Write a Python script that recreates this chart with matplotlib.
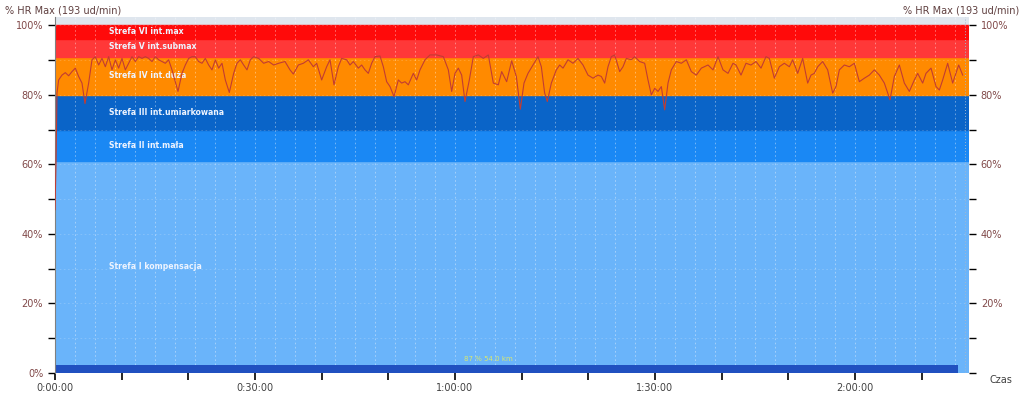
import numpy as np
from matplotlib import pyplot as plt
from matplotlib.ticker import MultipleLocator, FuncFormatter

# strefy tetna (% HR max)
strefy_nazwy = ["Strefa I kompensacja", "Strefa II int.mała", "Strefa III int.umiarkowana",
                "Strefa IV int.duża", "Strefa V int.submax", "Strefa VI int.max"]
strefy_od = [0, 61, 70, 80, 91, 96]
strefy_do = [61, 70, 80, 91, 96, 100]
strefy_kolory = ["#6ab4fa", "#1a88f4", "#0a64c8", "#ff8a00", "#ff3838", "#ff0a0a"]
strefy_y_tekst = [30.5, 65.5, 75, 85.6, 94, 98.3]

# przebieg HR (czas w minutach, % HR max)
czas = [0.0, 0.15, 0.3, 0.55, 1.05, 1.55, 2.05, 2.55, 3.05, 3.55, 4.05, 4.5, 5.05, 5.55, 6.05,
        6.55, 7.05, 7.55, 8.05, 8.55, 9.05, 9.55, 10.05, 10.55, 11.05, 11.55, 12.05, 12.55,
        13.05, 13.55, 14.05, 14.55, 15.05, 15.55, 16.55, 17.05, 17.55, 18.05, 18.45, 19.05,
        19.55, 20.05, 20.55, 21.05, 21.55, 22.05, 22.55, 23.05, 23.55, 24.05, 24.55, 25.05,
        25.55, 26.15, 26.8, 27.3, 27.8, 28.3, 28.8, 29.3, 29.8, 30.55, 31.3, 32.05, 32.8,
        33.55, 34.5, 35.25, 35.75, 36.5, 37.25, 38.0, 38.75, 39.25, 40.0, 40.75, 41.25,
        41.85, 42.5, 43.0, 43.75, 44.25, 44.75, 45.5, 46.0, 46.5, 47.0, 47.5, 48.0, 48.75,
        49.25, 49.75, 50.25, 50.85, 51.5, 52.0, 52.5, 53.0, 53.75, 54.25, 54.75, 55.5,
        56.25, 57.25, 58.25, 59.0, 59.5, 60.0, 60.5, 61.0, 61.5, 62.15, 62.75, 63.5, 64.25,
        65.0, 65.75, 66.5, 67.0, 67.75, 68.5, 69.2, 69.8, 70.35, 70.95, 71.7, 72.45, 72.95,
        73.45, 73.85, 74.45, 75.2, 75.7, 76.2, 76.95, 77.7, 78.45, 79.2, 79.95, 80.7, 81.45,
        81.95, 82.45, 82.95, 83.45, 83.95, 84.7, 85.2, 85.7, 86.45, 86.95, 87.7, 88.45,
        88.95, 89.45, 89.95, 90.45, 90.95, 91.45, 91.95, 92.45, 93.2, 93.95, 94.7, 95.45,
        96.2, 96.95, 97.95, 98.7, 99.45, 100.2, 100.95, 101.7, 102.15, 102.9, 103.65, 104.4,
        105.15, 105.9, 106.65, 107.15, 107.9, 108.65, 109.4, 110.15, 110.65, 111.4, 112.15,
        112.9, 113.4, 113.9, 114.4, 115.15, 115.9, 116.65, 117.15, 117.65, 118.4, 119.15,
        119.9, 120.65, 121.4, 122.15, 122.9, 123.65, 124.4, 125.25, 125.9, 126.65, 127.4,
        128.15, 128.9, 129.4, 130.15, 130.65, 131.4, 132.15, 132.65, 133.15, 133.9, 134.65,
        135.55, 136.15]
hr = [47, 60, 80.5, 84.3, 85.7, 86.4, 85.5, 86.7, 87.7, 85.3, 83.4, 77.5, 83.4, 90.1, 91.0,
      88.6, 90.5, 88.1, 91.0, 87.2, 90.1, 87.7, 90.5, 87.2, 89.1, 91.0, 89.6, 91.0,
      90.5, 91.0, 90.5, 89.6, 91.0, 90.1, 89.1, 90.1, 87.2, 83.8, 81.0, 86.2,
      88.6, 90.5, 91.0, 91.0, 89.6, 89.1, 90.5, 88.6, 87.2, 90.1, 87.7, 89.1,
      84.3, 80.7, 86.2, 89.1, 90.1, 88.6, 87.2, 90.1, 91.0, 90.5, 89.1, 89.6, 88.6,
      89.1, 89.6, 87.2, 86.0, 88.6, 89.1, 90.1, 88.1, 89.1, 84.3, 88.1, 90.1,
      82.9, 88.1, 90.5, 90.1, 88.6, 89.6, 87.7, 88.6, 87.2, 86.2, 89.1, 91.0, 91.2,
      88.1, 83.8, 82.4, 79.5, 84.3, 83.4, 83.8, 82.9, 86.2, 84.3, 87.2, 90.1,
      91.5, 91.5, 91.0, 87.2, 81.0, 86.2, 87.7, 85.7, 78.1, 84.3, 91.0, 91.5, 90.5,
      91.5, 83.4, 82.9, 86.7, 83.8, 89.8, 85.3, 75.9, 83.4, 86.2, 88.6, 91.0, 88.1,
      80.5, 78.1, 83.4, 87.2, 88.6, 87.7, 90.1, 89.1, 90.5, 88.6, 85.7, 84.8, 85.7,
      85.3, 83.4, 88.1, 91.0, 91.5, 86.7, 88.1, 90.5, 90.1, 91.0, 89.6, 89.1,
      84.3, 80.0, 81.9, 81.0, 82.4, 75.7, 83.4, 87.2, 89.6, 89.1, 90.1, 86.7,
      85.7, 87.7, 88.6, 87.2, 91.0, 87.2, 86.2, 89.1, 88.6, 85.7, 89.1, 88.6,
      89.6, 87.7, 91.0, 90.5, 84.8, 88.1, 89.1, 88.1, 90.1, 86.2, 90.5,
      83.4, 85.7, 86.2, 88.1, 89.6, 87.2, 80.5, 82.4, 87.2, 88.6, 88.1,
      89.1, 83.8, 84.8, 85.7, 87.2, 85.7, 83.4, 78.6, 85.3, 88.6, 83.4,
      81.0, 84.3, 86.2, 83.4, 86.2, 87.7, 82.4, 81.4, 84.3, 89.1, 83.4,
      88.6, 85.7]

czas_koniec = 135.5     # koniec paska dystansu
czas_max = 137.1
opis_paska = "87 % 54.0 km"

fig = plt.figure(figsize=(10.24, 3.96), dpi=100)
ax = fig.add_axes([0.0537, 0.058, 0.8926, 0.899])

# tlo nad 100%
ax.axhspan(100, 102.4, color="#dfe6ee", zorder=0)
for a, b, k in zip(strefy_od, strefy_do, strefy_kolory):
    ax.axhspan(a, b, color=k, zorder=0)

# siatka
for x in np.arange(3, czas_max, 3):
    ax.axvline(x, color="white", lw=0.6, ls=(0, (2, 3)), alpha=0.45, zorder=1)
for y in range(10, 101, 10):
    ax.axhline(y, color="white", lw=0.6, ls=(0, (2, 3)), alpha=0.2, zorder=1)
ax.axvline(136.5, color="#a0b8d0", lw=0.7, ls=(0, (1, 2)), zorder=1)

# pasek dystansu
ax.fill_between([0, czas_koniec], 0, 2.2, color="#2050c0", lw=0, zorder=2)
ax.text(65, 3.2, opis_paska, color="#d8e870", fontsize=5, ha="center", va="bottom", zorder=3)

for nazwa, y in zip(strefy_nazwy, strefy_y_tekst):
    ax.text(8.1, y, nazwa, color="#eef4ff", fontsize=5.6, fontweight="bold",
            va="center", ha="left", zorder=3)

ax.plot(czas, hr, color="#c23c32", lw=0.8, zorder=4)

ax.set_xlim(0, czas_max)
ax.set_ylim(0, 102.4)

def fmt_czas(x, pos):
    m = int(round(x))
    return "%d:%02d:00" % (m // 60, m % 60)

ax.xaxis.set_major_locator(MultipleLocator(30))
ax.xaxis.set_minor_locator(MultipleLocator(10))
ax.xaxis.set_major_formatter(FuncFormatter(fmt_czas))
ax.yaxis.set_major_locator(MultipleLocator(20))
ax.yaxis.set_minor_locator(MultipleLocator(10))
ax.yaxis.set_major_formatter(FuncFormatter(lambda v, p: "%d%%" % v))
ax.tick_params(axis="x", which="both", length=5, width=1.2, direction="out",
               labelsize=7, labelcolor="#404040", pad=2)
ax.tick_params(axis="y", which="both", length=5, width=1, direction="out",
               labelsize=7, labelcolor="#804848", left=True, right=True)

ax2 = ax.twinx()
ax2.set_ylim(ax.get_ylim())
ax2.yaxis.set_major_locator(MultipleLocator(20))
ax2.yaxis.set_minor_locator(MultipleLocator(10))
ax2.yaxis.set_major_formatter(FuncFormatter(lambda v, p: "" if v == 0 else "%d%%" % v))
ax2.tick_params(axis="y", which="both", length=5, width=1, direction="out",
                labelsize=7, labelcolor="#804848")

for a in (ax, ax2):
    for s in a.spines.values():
        s.set_visible(False)
ax.spines["left"].set_visible(True)
ax.spines["left"].set_color("#808080")

fig.text(0.005, 0.985, "% HR Max (193 ud/min)", fontsize=7, color="#604040", va="top", ha="left")
fig.text(0.995, 0.985, "% HR Max (193 ud/min)", fontsize=7, color="#604040", va="top", ha="right")
fig.text(0.966, 0.04, "Czas", fontsize=7, color="#404040", va="center", ha="left")

fig.savefig("out.png", dpi=100)
